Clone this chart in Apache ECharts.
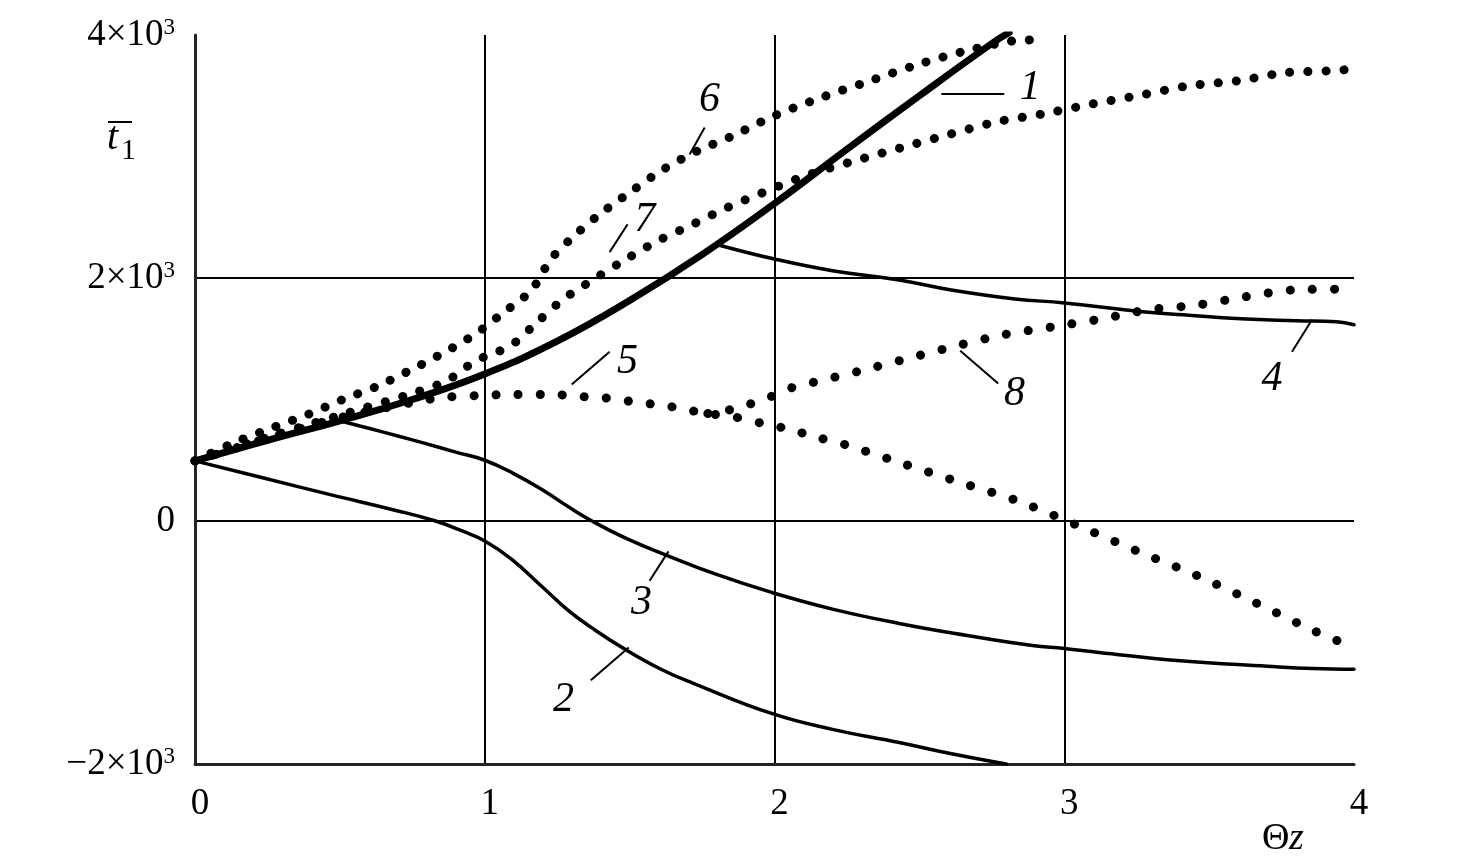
<!DOCTYPE html>
<html><head><meta charset="utf-8">
<script src="https://cdn.jsdelivr.net/npm/echarts@6/dist/echarts.min.js"></script>
<style>html,body{margin:0;padding:0;background:#fff}#c{width:1465px;height:867px}</style>
</head><body><div id="c"></div>
<script>
// ---- data ----
const c1x = [0, 0.25, 0.5, 0.75, 1.0, 1.25, 1.5, 1.75, 2.0, 2.25, 2.5, 2.75, 2.81];
const c1y = [495, 663, 825, 1000, 1210, 1480, 1815, 2193, 2613, 3060, 3500, 3930, 4020];

const c2x = [0, 0.23, 0.46, 0.69, 0.83, 0.92, 1.0, 1.09, 1.2, 1.29, 1.37, 1.48, 1.61, 1.72, 1.99, 2.2, 2.43, 2.62, 2.8];
const c2y = [495, 358, 221, 89, 0, -80, -164, -310, -545, -740, -880, -1050, -1222, -1336, -1584, -1715, -1823, -1920, -2000];

const c3x = [0.5, 0.6, 0.7, 0.8, 0.9, 1.0, 1.1, 1.2, 1.29, 1.37, 1.49, 1.63, 1.8, 1.99, 2.2, 2.43, 2.66, 2.89, 3.0, 3.12, 3.4, 3.7, 3.86, 4.0];
const c3y = [825, 763, 700, 635, 567, 500, 390, 255, 115, 0, -145, -284, -440, -588, -725, -843, -940, -1025, -1049, -1082, -1150, -1195, -1215, -1221];

const c4x = [1.81, 2.0, 2.2, 2.43, 2.61, 2.83, 3.0, 3.28, 3.41, 3.61, 3.8, 3.94, 4.0];
const c4y = [2270, 2156, 2060, 1984, 1902, 1828, 1795, 1721, 1697, 1664, 1648, 1639, 1615];

const c5x = [0, 0.25, 0.5, 0.75, 0.85, 0.98, 1.1, 1.24, 1.32, 1.4, 1.46, 1.53, 1.62, 1.69, 1.77, 1.87, 1.96, 2.04, 2.15, 2.24, 2.45, 2.65, 2.85, 3.05, 3.25, 3.46, 3.66, 3.86, 4.0];
const c5y = [495, 680, 850, 975, 1016, 1033, 1041, 1041, 1025, 1016, 1000, 975, 951, 918, 885, 852, 802, 761, 687, 631, 467, 311, 156, -41, -246, -451, -672, -902, -1040];

const c6x = [0, 0.14, 0.27, 0.39, 0.51, 0.63, 0.75, 0.86, 0.97, 1.06, 1.16, 1.23, 1.31, 1.4, 1.51, 1.61, 1.73, 1.85, 2.0, 2.16, 2.33, 2.49, 2.66, 2.82, 2.9];
const c6y = [495, 650, 770, 877, 1000, 1110, 1250, 1387, 1543, 1708, 1897, 2160, 2350, 2531, 2720, 2885, 3041, 3164, 3336, 3484, 3623, 3754, 3869, 3951, 3960];

const c7x = [0, 0.25, 0.5, 0.75, 0.87, 0.97, 1.04, 1.1, 1.18, 1.27, 1.37, 1.48, 1.6, 1.71, 1.83, 1.96, 2.11, 2.27, 2.44, 2.6, 2.77, 2.93, 3.1, 3.27, 3.43, 3.6, 3.76, 3.92, 4.0];
const c7y = [495, 690, 870, 1050, 1156, 1321, 1387, 1461, 1634, 1823, 1980, 2144, 2309, 2432, 2572, 2703, 2844, 2960, 3074, 3180, 3287, 3352, 3434, 3508, 3582, 3623, 3689, 3705, 3720];

const c8x = [1.77, 1.82, 1.9, 1.98, 2.05, 2.13, 2.3, 2.47, 2.63, 2.79, 2.96, 3.13, 3.29, 3.46, 3.62, 3.79, 3.95, 4.0];
const c8y = [885, 901, 951, 1016, 1090, 1139, 1238, 1344, 1443, 1533, 1598, 1664, 1738, 1778, 1844, 1902, 1910, 1930];

// tick labels
const xTickValues = [0, 1, 2, 3, 4];
const xTickLabels = ['0', '1', '2', '3', '4'];
const yTickValues = [-2000, 0, 2000, 4000];
const yTickMantissa = ['\u22122\u00d710', '0', '2\u00d710', '4\u00d710'];
const yTickExponent = ['3', '', '3', '3'];

// curve labels (text anchor and leader line, data coordinates)
const curveNames = ['1', '2', '3', '4', '5', '6', '7', '8'];
const labelX = [2.883, 1.272, 1.541, 3.717, 1.493, 1.776, 1.552, 2.828];
const labelY = [3566, -1475, -672, 1172, 1311, 3467, 2475, 1049];
const leadX1 = [2.576, 1.366, 1.569, 3.786, 1.300, 1.707, 1.431, 2.641];
const leadY1 = [3516, -1311, -492, 1393, 1123, 3016, 2213, 1402];
const leadX2 = [2.793, 1.497, 1.634, 3.855, 1.431, 1.759, 1.493, 2.772];
const leadY2 = [3516, -1041, -250, 1656, 1393, 3238, 2443, 1131];

// ---- chart ----
const zip = (xs, ys) => xs.map((x, i) => [x, ys[i]]);
const FONT = '"Liberation Serif", "Times New Roman", serif';

const solid = (data, w) => ({
  type: 'line', data, symbol: 'none', smooth: 0.45, clip: true,
  lineStyle: { color: '#000', width: w, cap: 'round', join: 'round' }
});
const dotted = (data, gap) => ({
  type: 'line', data, symbol: 'none', smooth: 0.3, clip: true,
  lineStyle: { color: '#000', width: 9, type: [0.1, gap], cap: 'round' }
});

const chart = echarts.init(document.getElementById('c'), null, { renderer: 'canvas' });
chart.setOption({
  animation: false,
  backgroundColor: '#fff',
  grid: { left: 195, right: 111, top: 35, bottom: 103, containLabel: false },
  xAxis: {
    type: 'value', min: 0, max: 4, interval: 1,
    axisLine: { show: true, onZero: false, lineStyle: { color: '#222', width: 3 } },
    axisTick: { show: false },
    splitLine: { show: true, showMinLine: false, showMaxLine: false, lineStyle: { color: '#000', width: 2 } },
    axisLabel: {
      margin: 22, fontFamily: FONT, fontSize: 37, color: '#000', padding: [0, 0, 0, 10],
      formatter: v => xTickLabels[xTickValues.indexOf(v)]
    }
  },
  yAxis: {
    type: 'value', min: -2000, max: 4000, interval: 2000,
    axisLine: { show: true, onZero: false, lineStyle: { color: '#222', width: 3 } },
    axisTick: { show: false },
    splitLine: { show: true, showMinLine: false, showMaxLine: false, lineStyle: { color: '#000', width: 2 } },
    axisLabel: {
      margin: 20, color: '#000',
      formatter: v => {
        const i = yTickValues.indexOf(v);
        return '{m|' + yTickMantissa[i] + '}' + (yTickExponent[i] ? '{s|' + yTickExponent[i] + '}' : '');
      },
      rich: {
        m: { fontFamily: FONT, fontSize: 37, color: '#000', verticalAlign: 'bottom' },
        s: { fontFamily: FONT, fontSize: 23, color: '#000', verticalAlign: 'top' }
      }
    }
  },
  series: [
    solid(zip(c1x, c1y), 7),
    solid(zip(c2x, c2y), 3.5),
    solid(zip(c3x, c3y), 3.5),
    solid(zip(c4x, c4y), 3.5),
    dotted(zip(c5x, c5y), 22),
    dotted(zip(c6x, c6y), 17.5),
    dotted(zip(c7x, c7y), 18),
    dotted(zip(c8x, c8y), 22),
    {
      type: 'lines', coordinateSystem: 'cartesian2d', silent: true,
      lineStyle: { color: '#000', width: 2, opacity: 1, curveness: 0 },
      data: curveNames.map((n, i) => ({ coords: [[leadX1[i], leadY1[i]], [leadX2[i], leadY2[i]]] }))
    },
    {
      type: 'scatter', silent: true, symbolSize: 0,
      itemStyle: { color: '#000', opacity: 1 },
      label: {
        show: true, position: 'inside', formatter: p => p.data[2], opacity: 1,
        fontFamily: FONT, fontStyle: 'italic', fontSize: 42, color: '#000',
        textBorderWidth: 0, textShadowBlur: 0
      },
      data: curveNames.map((n, i) => [labelX[i], labelY[i], n])
    }
  ],
  graphic: [
    { type: 'text', left: 107, top: 118, style: { text: 't', font: 'italic 40px ' + FONT, fill: '#000' } },
    { type: 'text', left: 121, top: 136, style: { text: '1', font: '30px ' + FONT, fill: '#000' } },
    { type: 'line', shape: { x1: 108, y1: 122, x2: 132, y2: 122 }, style: { stroke: '#000', lineWidth: 2 } },
    { type: 'text', left: 1262, top: 820, style: { text: '\u0398', font: '38px ' + FONT, fill: '#000' } },
    { type: 'text', left: 1289, top: 820, style: { text: 'z', font: 'italic 38px ' + FONT, fill: '#000' } }
  ]
});
</script></body></html>
